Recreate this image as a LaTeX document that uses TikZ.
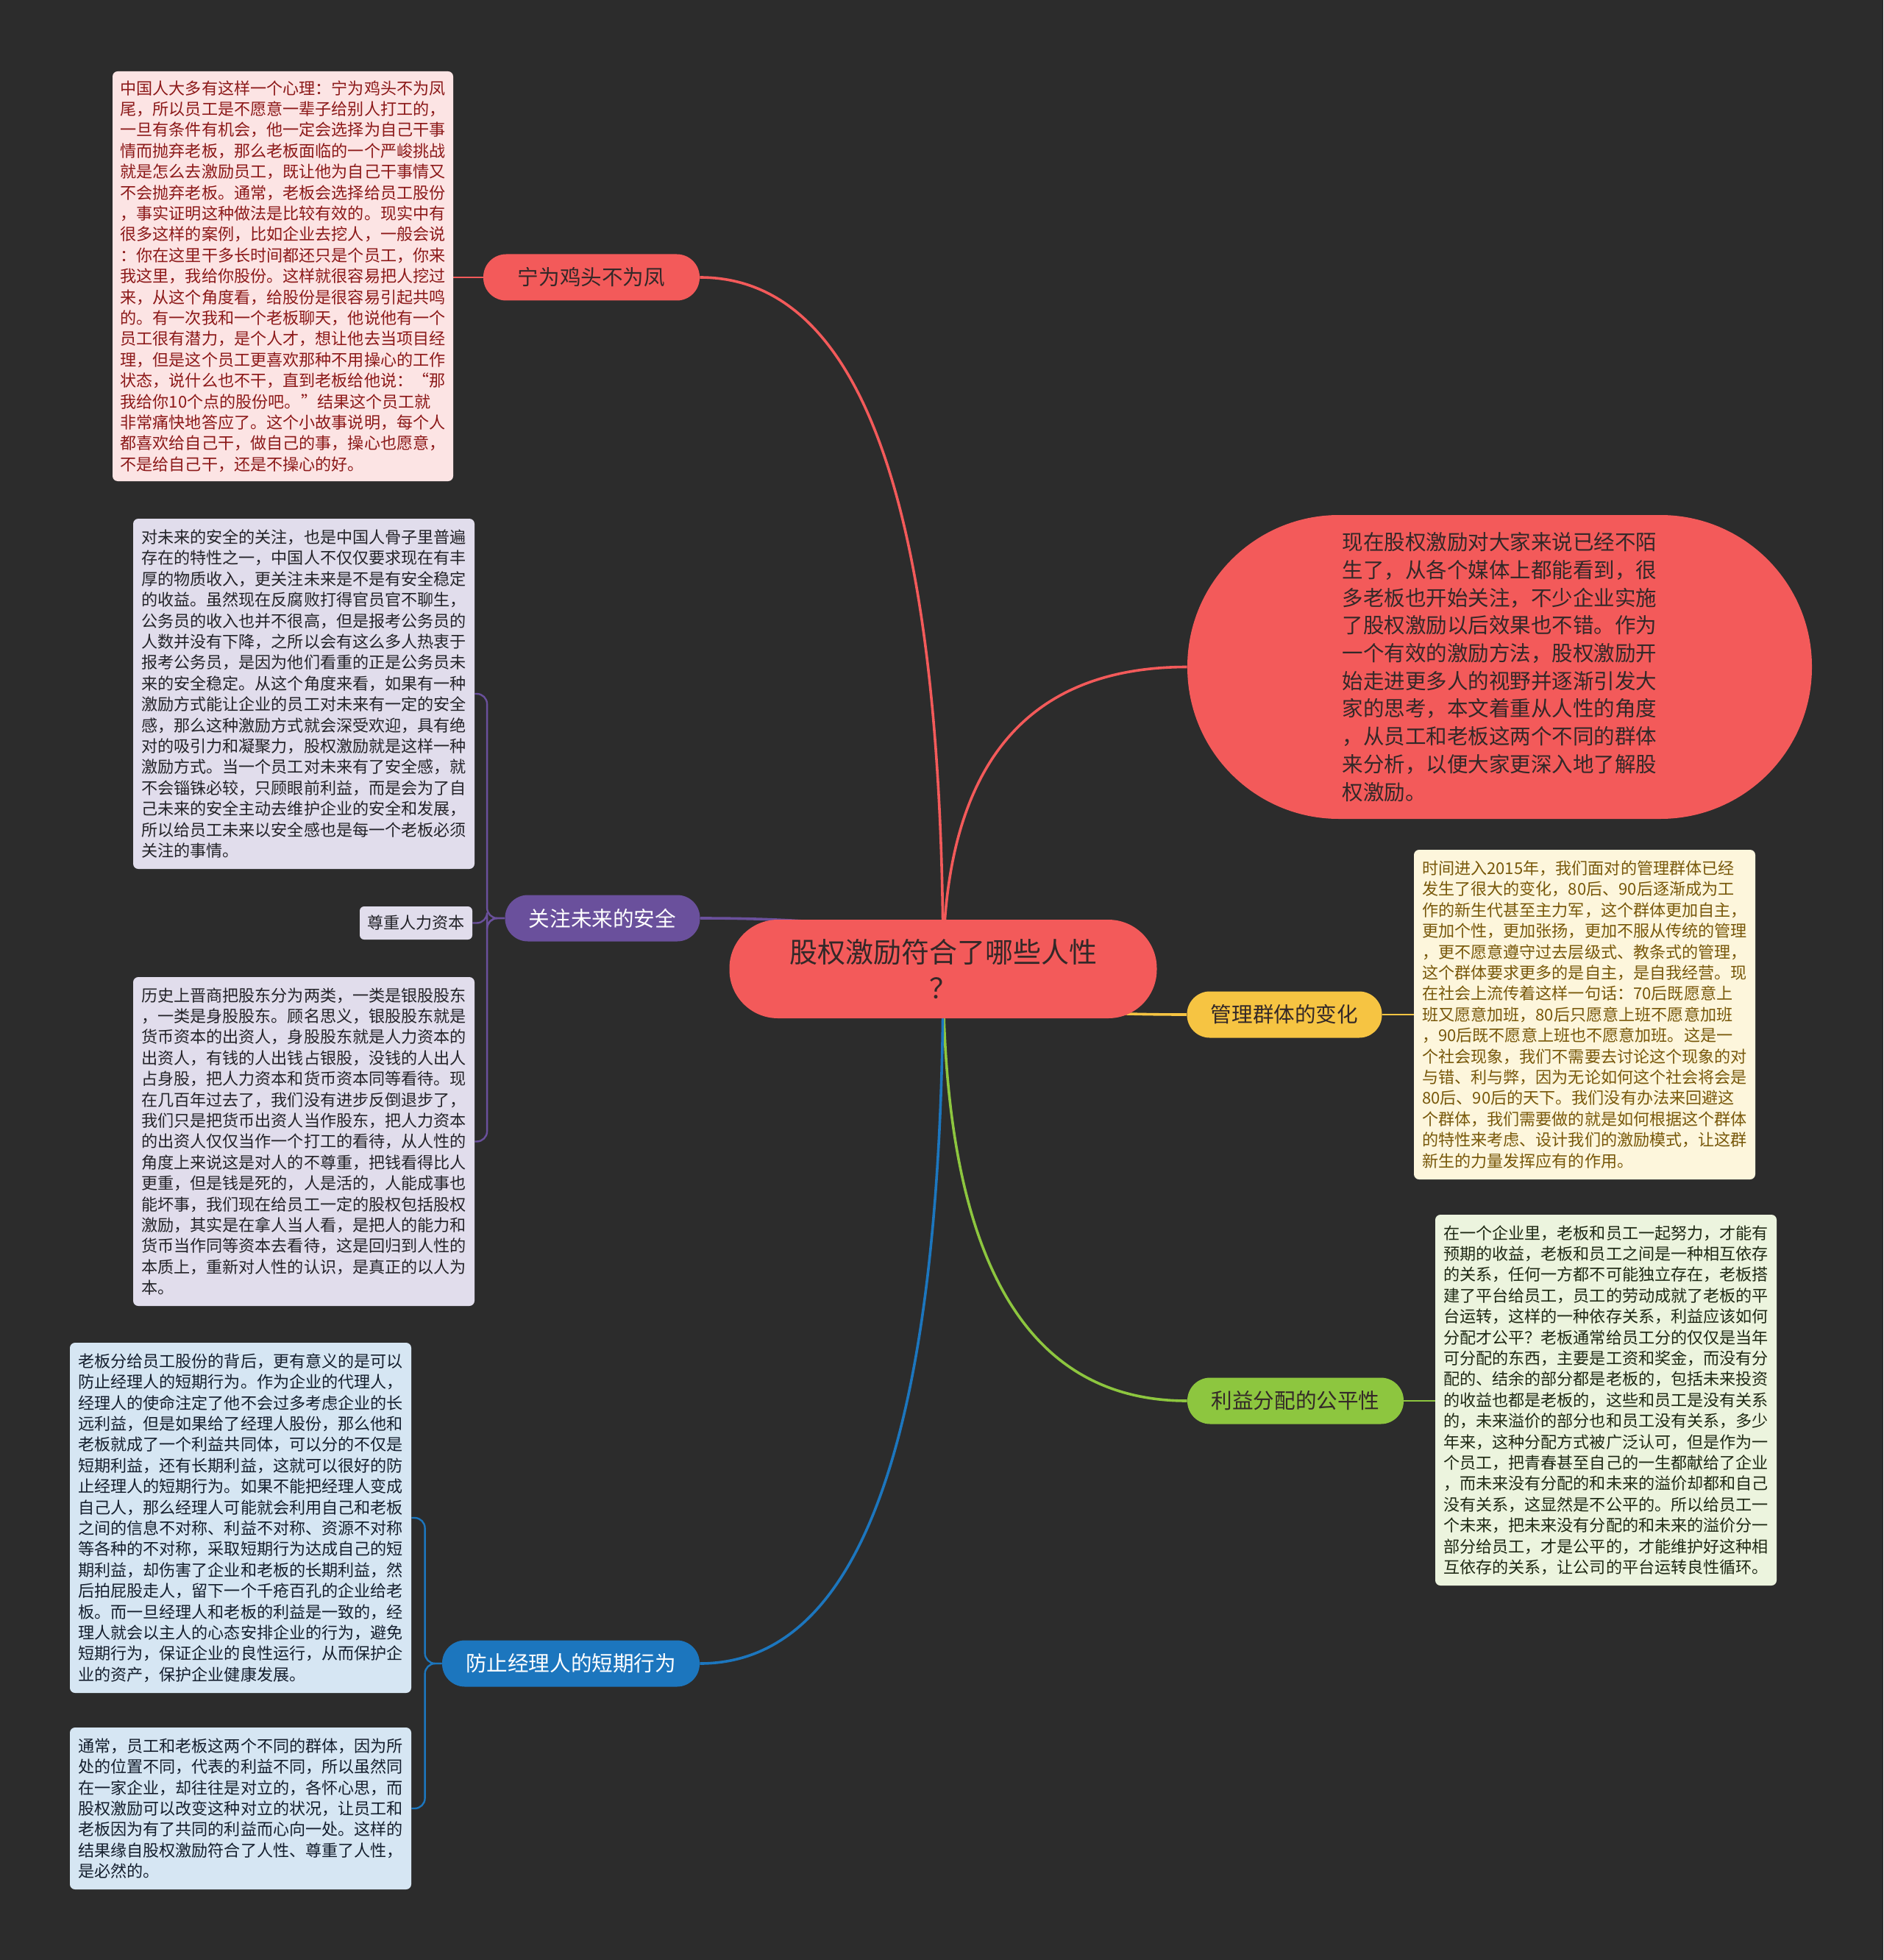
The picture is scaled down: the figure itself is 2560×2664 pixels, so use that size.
\documentclass[tikz,border=0pt]{standalone}
\usepackage{fontspec}
\setmainfont{Noto Sans CJK SC}
\usetikzlibrary{calc,backgrounds}
\definecolor{bgc}{RGB}{44,44,44}
\definecolor{redc}{RGB}{243,90,90}
\definecolor{purc}{RGB}{106,80,156}
\definecolor{yelc}{RGB}{246,196,66}
\definecolor{grnc}{RGB}{141,198,63}
\definecolor{bluc}{RGB}{28,118,190}
\definecolor{pinkbg}{RGB}{252,228,228}
\definecolor{pinktx}{RGB}{140,25,25}
\definecolor{lavbg}{RGB}{225,221,236}
\definecolor{lavtx}{RGB}{35,35,40}
\definecolor{yelbg}{RGB}{253,246,220}
\definecolor{yeltx}{RGB}{120,88,10}
\definecolor{grnbg}{RGB}{236,244,222}
\definecolor{grntx}{RGB}{30,40,20}
\definecolor{blubg}{RGB}{214,230,243}
\definecolor{blutx}{RGB}{20,30,45}
\definecolor{darktx}{RGB}{51,40,40}
\begin{document}
\begin{tikzpicture}[x=0.5pt,y=-0.5pt,
  leaf/.style={rounded corners=3.5pt, inner sep=0pt, align=left,
    font=\fontsize{11.05pt}{14.2pt}\selectfont},
  branch/.style={rounded corners=15.5pt, inner sep=0pt, align=center,
    minimum height=31.5pt, font=\fontsize{14.3pt}{17pt}\selectfont},
  mainline/.style={line width=1.8pt},
  subline/.style={line width=1.2pt, rounded corners=7pt},
  mapcurve/.style={to path={.. controls ($(\tikztostart)!0.667!(\tikztostart|-\tikztotarget)$) and ($(\tikztotarget)!0.667!(\tikztostart|-\tikztotarget)$) .. (\tikztotarget)}}
]
\useasboundingbox (0,0) rectangle (2560,2664);

% root
\node[fill=redc, text=darktx, rounded corners=33pt, minimum width=290.5pt, minimum height=67pt,
  inner sep=0pt, align=center, font=\fontsize{19pt}{24.5pt}\selectfont]
  (root) at (1282,1317) {股权激励符合了哪些人性\\？};

% big intro pill
\node[fill=redc, text=darktx, rounded corners=103pt, minimum width=424.5pt, minimum height=206.5pt,
  inner sep=0pt, align=left, font=\fontsize{14.25pt}{18.85pt}\selectfont]
  (intro) at (2038.5,906.5) {现在股权激励对大家来说已经不陌\\生了，从各个媒体上都能看到，很\\多老板也开始关注，不少企业实施\\了股权激励以后效果也不错。作为\\一个有效的激励方法，股权激励开\\始走进更多人的视野并逐渐引发大\\家的思考，本文着重从人性的角度\\，从员工和老板这两个不同的群体\\来分析，以便大家更深入地了解股\\权激励。};

% branches
\node[branch, fill=redc, text=darktx, minimum width=147pt] (b1) at (804,377) {宁为鸡头不为凤};
\node[branch, fill=purc, text=white, minimum width=132.5pt] (b2) at (819,1248) {关注未来的安全};
\node[branch, fill=yelc, text=darktx, minimum width=132.5pt] (b3) at (1746,1379) {管理群体的变化};
\node[branch, fill=grnc, text=darktx, minimum width=147pt] (b4) at (1761,1904) {利益分配的公平性};
\node[branch, fill=bluc, text=white, minimum width=175pt] (b5) at (776,2261) {防止经理人的短期行为};

% leaves
\node[leaf, fill=pinkbg, text=pinktx, minimum width=231.5pt, minimum height=278.5pt] (l1) at (384.5,375.5)
{中国人大多有这样一个心理：宁为鸡头不为凤\\尾，所以员工是不愿意一辈子给别人打工的，\\一旦有条件有机会，他一定会选择为自己干事\\情而抛弃老板，那么老板面临的一个严峻挑战\\就是怎么去激励员工，既让他为自己干事情又\\不会抛弃老板。通常，老板会选择给员工股份\\，事实证明这种做法是比较有效的。现实中有\\很多这样的案例，比如企业去挖人，一般会说\\：你在这里干多长时间都还只是个员工，你来\\我这里，我给你股份。这样就很容易把人挖过\\来，从这个角度看，给股份是很容易引起共鸣\\的。有一次我和一个老板聊天，他说他有一个\\员工很有潜力，是个人才，想让他去当项目经\\理，但是这个员工更喜欢那种不用操心的工作\\状态，说什么也不干，直到老板给他说：“那\\我给你10个点的股份吧。”结果这个员工就\\非常痛快地答应了。这个小故事说明，每个人\\都喜欢给自己干，做自己的事，操心也愿意，\\不是给自己干，还是不操心的好。};

\node[leaf, fill=lavbg, text=lavtx, minimum width=232pt, minimum height=238pt] (l2a) at (413,943)
{对未来的安全的关注，也是中国人骨子里普遍\\存在的特性之一，中国人不仅仅要求现在有丰\\厚的物质收入，更关注未来是不是有安全稳定\\的收益。虽然现在反腐败打得官员官不聊生，\\公务员的收入也并不很高，但是报考公务员的\\人数并没有下降，之所以会有这么多人热衷于\\报考公务员，是因为他们看重的正是公务员未\\来的安全稳定。从这个角度来看，如果有一种\\激励方式能让企业的员工对未来有一定的安全\\感，那么这种激励方式就会深受欢迎，具有绝\\对的吸引力和凝聚力，股权激励就是这样一种\\激励方式。当一个员工对未来有了安全感，就\\不会锱铢必较，只顾眼前利益，而是会为了自\\己未来的安全主动去维护企业的安全和发展，\\所以给员工未来以安全感也是每一个老板必须\\关注的事情。};

\node[leaf, fill=lavbg, text=lavtx, minimum width=76.5pt, minimum height=22.5pt, rounded corners=3pt] (l2b) at (565.5,1254.5) {尊重人力资本};

\node[leaf, fill=lavbg, text=lavtx, minimum width=232pt, minimum height=223.5pt] (l2c) at (413,1551.5)
{历史上晋商把股东分为两类，一类是银股股东\\，一类是身股股东。顾名思义，银股股东就是\\货币资本的出资人，身股股东就是人力资本的\\出资人，有钱的人出钱占银股，没钱的人出人\\占身股，把人力资本和货币资本同等看待。现\\在几百年过去了，我们没有进步反倒退步了，\\我们只是把货币出资人当作股东，把人力资本\\的出资人仅仅当作一个打工的看待，从人性的\\角度上来说这是对人的不尊重，把钱看得比人\\更重，但是钱是死的，人是活的，人能成事也\\能坏事，我们现在给员工一定的股权包括股权\\激励，其实是在拿人当人看，是把人的能力和\\货币当作同等资本去看待，这是回归到人性的\\本质上，重新对人性的认识，是真正的以人为\\本。};

\node[leaf, fill=yelbg, text=yeltx, minimum width=232pt, minimum height=224pt] (l3) at (2154,1379)
{时间进入2015年，我们面对的管理群体已经\\发生了很大的变化，80后、90后逐渐成为工\\作的新生代甚至主力军，这个群体更加自主，\\更加个性，更加张扬，更加不服从传统的管理\\，更不愿意遵守过去层级式、教条式的管理，\\这个群体要求更多的是自主，是自我经营。现\\在社会上流传着这样一句话：70后既愿意上\\班又愿意加班，80后只愿意上班不愿意加班\\，90后既不愿意上班也不愿意加班。这是一\\个社会现象，我们不需要去讨论这个现象的对\\与错、利与弊，因为无论如何这个社会将会是\\80后、90后的天下。我们没有办法来回避这\\个群体，我们需要做的就是如何根据这个群体\\的特性来考虑、设计我们的激励模式，让这群\\新生的力量发挥应有的作用。};

\node[leaf, fill=grnbg, text=grntx, minimum width=232pt, minimum height=252pt] (l4) at (2183,1903)
{在一个企业里，老板和员工一起努力，才能有\\预期的收益，老板和员工之间是一种相互依存\\的关系，任何一方都不可能独立存在，老板搭\\建了平台给员工，员工的劳动成就了老板的平\\台运转，这样的一种依存关系，利益应该如何\\分配才公平？老板通常给员工分的仅仅是当年\\可分配的东西，主要是工资和奖金，而没有分\\配的、结余的部分都是老板的，包括未来投资\\的收益也都是老板的，这些和员工是没有关系\\的，未来溢价的部分也和员工没有关系，多少\\年来，这种分配方式被广泛认可，但是作为一\\个员工，把青春甚至自己的一生都献给了企业\\，而未来没有分配的和未来的溢价却都和自己\\没有关系，这显然是不公平的。所以给员工一\\个未来，把未来没有分配的和未来的溢价分一\\部分给员工，才是公平的，才能维护好这种相\\互依存的关系，让公司的平台运转良性循环。};

\node[leaf, fill=blubg, text=blutx, minimum width=232pt, minimum height=238pt] (l5a) at (327,2063)
{老板分给员工股份的背后，更有意义的是可以\\防止经理人的短期行为。作为企业的代理人，\\经理人的使命注定了他不会过多考虑企业的长\\远利益，但是如果给了经理人股份，那么他和\\老板就成了一个利益共同体，可以分的不仅是\\短期利益，还有长期利益，这就可以很好的防\\止经理人的短期行为。如果不能把经理人变成\\自己人，那么经理人可能就会利用自己和老板\\之间的信息不对称、利益不对称、资源不对称\\等各种的不对称，采取短期行为达成自己的短\\期利益，却伤害了企业和老板的长期利益，然\\后拍屁股走人，留下一个千疮百孔的企业给老\\板。而一旦经理人和老板的利益是一致的，经\\理人就会以主人的心态安排企业的行为，避免\\短期行为，保证企业的良性运行，从而保护企\\业的资产，保护企业健康发展。};

\node[leaf, fill=blubg, text=blutx, minimum width=232pt, minimum height=110pt] (l5b) at (327,2458)
{通常，员工和老板这两个不同的群体，因为所\\处的位置不同，代表的利益不同，所以虽然同\\在一家企业，却往往是对立的，各怀心思，而\\股权激励可以改变这种对立的状况，让员工和\\老板因为有了共同的利益而心向一处。这样的\\结果缘自股权激励符合了人性、尊重了人性，\\是必然的。};

\begin{pgfonlayer}{background}
\fill[bgc] (0,0) rectangle (2560,2664);
% main curves
\draw[mainline, redc] (root.center) to[mapcurve] (b1.east);
\draw[mainline, redc] (root.center) to[mapcurve] (intro.west);
\draw[mainline, purc] (root.center) to[mapcurve] (b2.east);
\draw[mainline, yelc] (root.center) to[mapcurve] (b3.west);
\draw[mainline, grnc] (root.center) to[mapcurve] (b4.west);
\draw[mainline, bluc] (root.center) to[mapcurve] (b5.east);
% sub connectors
\draw[subline, redc] (b1.west) -- (b1.west -| l1.east);
\draw[subline, purc] (b2.west) -- ++(-24,0) |- (l2a.east);
\draw[subline, purc] (b2.west) -- ++(-24,0) |- (l2b.east);
\draw[subline, purc] (b2.west) -- ++(-24,0) |- (l2c.east);
\draw[subline, yelc] (b3.east) -- (b3.east -| l3.west);
\draw[subline, grnc] (b4.east) -- (b4.east -| l4.west);
\draw[subline, bluc] (b5.west) -- ++(-23,0) |- (l5a.east);
\draw[subline, bluc] (b5.west) -- ++(-23,0) |- (l5b.east);
\end{pgfonlayer}
\end{tikzpicture}
\end{document}
